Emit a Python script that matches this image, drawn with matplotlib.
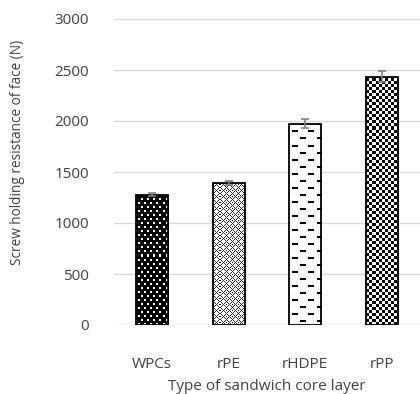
import numpy as np
import matplotlib
matplotlib.use('Agg')
import matplotlib.pyplot as plt

# Screw holding resistance of face for each sandwich core layer
core_types = ['WPCs', 'rPE', 'rHDPE', 'rPP']
resistance = [1275, 1390, 1975, 2435]
resistance_err = [15, 20, 45, 55]


def dot_tile():
    # black background with staggered white dots
    t = np.zeros((8, 6))
    t[0:2, 0:2] = 1.0
    t[4:6, 3:5] = 1.0
    return t


def lattice_tile():
    # white background with a small diamond lattice
    t = np.ones((6, 6))
    for r in range(6):
        for c in range(6):
            if abs(r - 3) + abs(c - 3) == 3:
                t[r, c] = 0.15
    t[3, 3] = 0.0
    return t


def dash_tile():
    # white background with brick-like rows of short dashes
    t = np.ones((14, 16))
    t[0:2, 2:8] = 0.0
    t[7:9, 10:16] = 0.0
    return t


def check_tile():
    # fine checkerboard
    t = np.ones((6, 6))
    for r in range(6):
        for c in range(6):
            if (r // 3 + c // 3) % 2 == 0:
                t[r, c] = 0.0
    return t


def fill_texture(ax, bar, tile, xlim, ylim):
    """Fill a bar with a pixel pattern clipped to its outline."""
    bb = ax.get_window_extent()
    w, h = int(round(bb.width)), int(round(bb.height))
    ny = h // tile.shape[0] + 1
    nx = w // tile.shape[1] + 1
    img = np.tile(tile, (ny, nx))[:h, :w]
    im = ax.imshow(img, cmap='gray', vmin=0, vmax=1, interpolation='nearest',
                   extent=(xlim[0], xlim[1], ylim[0], ylim[1]),
                   aspect='auto', zorder=2)
    im.set_clip_path(bar)


plt.rcParams['font.family'] = ['Open Sans', 'DejaVu Sans']

fig = plt.figure(figsize=(4.2, 3.94), dpi=100)
ax = fig.add_axes([114 / 420, 1 - 325 / 394, 306 / 420, 306 / 394])

xlim = (-0.5, 3.5)
ylim = (0, 3000)
x = np.arange(len(core_types))

bars = ax.bar(x, resistance, width=0.42, facecolor='none', edgecolor='black',
              linewidth=1.3, zorder=3)
ax.errorbar(x, resistance, yerr=resistance_err, fmt='none', ecolor='#808080',
            elinewidth=1.2, capsize=3, capthick=1.2, zorder=4)

tiles = [dot_tile(), lattice_tile(), dash_tile(), check_tile()]
for bar, tile in zip(bars, tiles):
    fill_texture(ax, bar, tile, xlim, ylim)

ax.set_xlim(*xlim)
ax.set_ylim(*ylim)
ax.set_yticks(np.arange(0, 3001, 500))
ax.set_xticks(x)
ax.set_xticklabels(core_types)
ax.yaxis.grid(True, color='#d9d9d9', linewidth=1.0)
ax.set_axisbelow(True)
for s in ax.spines.values():
    s.set_visible(False)
ax.tick_params(axis='y', length=0, pad=18, labelsize=11, labelcolor='#404040')
ax.tick_params(axis='x', length=0, pad=23, labelsize=11, labelcolor='#404040')
ax.set_xlabel('Type of sandwich core layer', fontsize=11, color='#404040',
              labelpad=5)

fig.text(18 / 420, 1 - 152 / 394, 'Screw holding resistance of face (N)',
         rotation=90, ha='center', va='center', fontsize=9.8, color='#404040')

fig.savefig('out.png', dpi=100)
